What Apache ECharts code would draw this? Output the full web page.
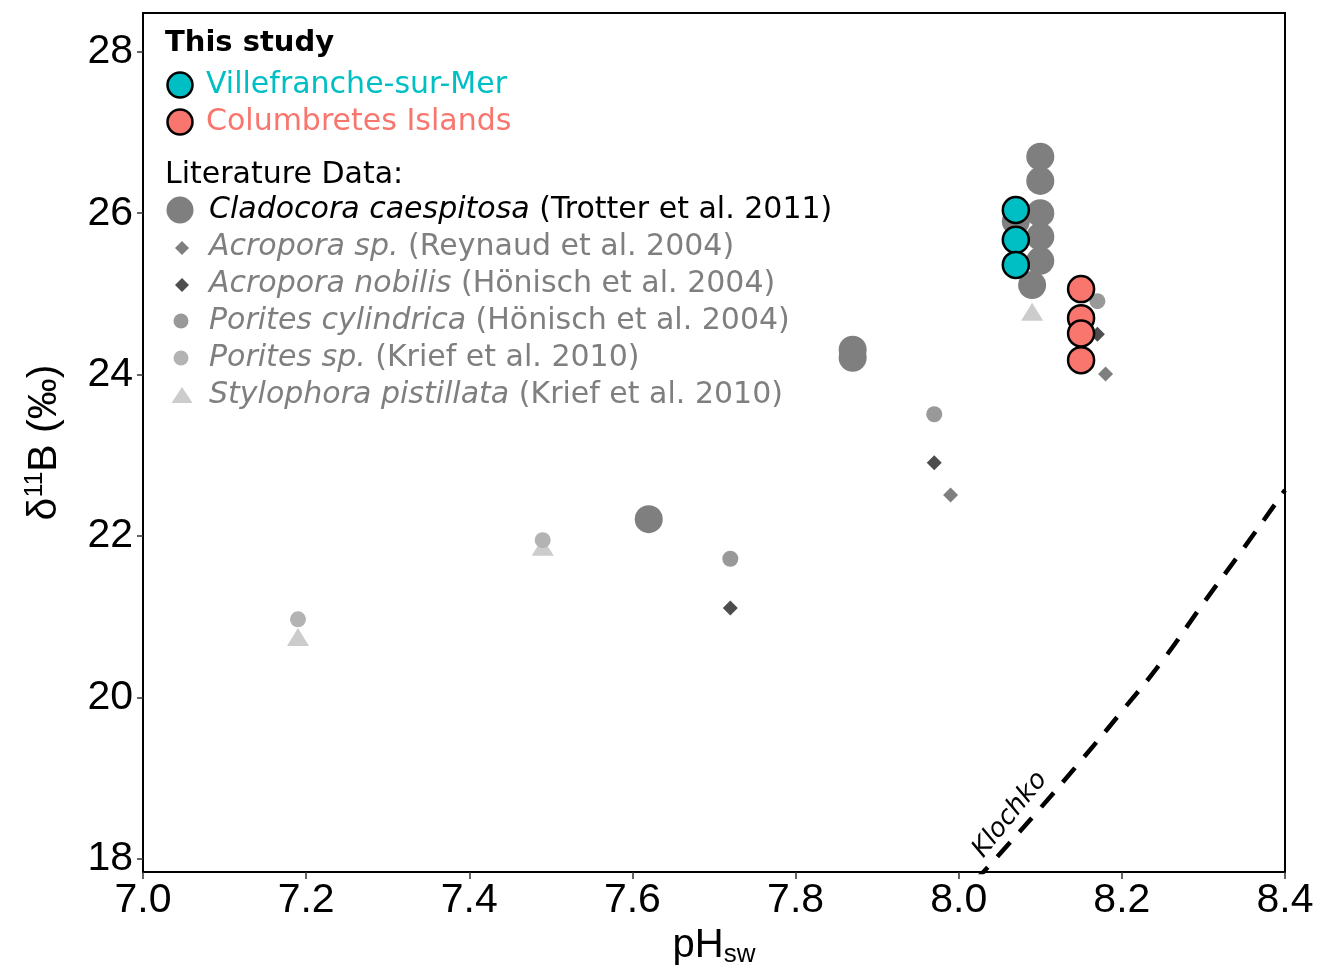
<!DOCTYPE html>
<html>
<head>
<meta charset="utf-8">
<script src="https://cdn.jsdelivr.net/npm/echarts@6/dist/echarts.min.js"></script>
<style>html,body{margin:0;padding:0;background:#fff;}#chart{width:1317px;height:973px;}</style>
</head>
<body>
<div id="chart"></div>
<script>
// ---- data ----
const xTicks = [7.0, 7.2, 7.4, 7.6, 7.8, 8.0, 8.2, 8.4];
const yTicks = [18, 20, 22, 24, 26, 28];

const villefranche = [[8.07, 26.04], [8.07, 25.67], [8.07, 25.36]];
const columbretes = [[8.15, 25.06], [8.15, 24.70], [8.15, 24.51], [8.15, 24.18]];
const cladocora = [[7.62, 22.21], [7.87, 24.31], [7.87, 24.21], [8.07, 25.90], [8.09, 25.11],
                   [8.10, 26.70], [8.10, 26.40], [8.10, 26.00], [8.10, 25.71], [8.10, 25.41]];
const acroporaSp = [[7.99, 22.51], [8.18, 24.01]];
const acroporaNobilis = [[7.72, 21.11], [7.97, 22.91], [8.17, 24.50]];
const poritesCylindrica = [[7.72, 21.72], [7.97, 23.51], [8.17, 24.91]];
const poritesSp = [[7.19, 20.97], [7.49, 21.95]];
const stylophora = [[7.19, 20.75], [7.49, 21.87], [8.09, 24.78]];

const klochkoPH = [8.02, 8.05, 8.10, 8.15, 8.20, 8.25, 8.30, 8.35, 8.40];
const klochkoD11B = [17.73, 18.06, 18.63, 19.22, 19.83, 20.46, 21.17, 21.86, 22.57];
const klochkoLabelAt = [8.063, 18.55];

const studyNames = ['Villefranche-sur-Mer', 'Columbretes Islands'];
const litSpecies = ['Cladocora caespitosa', 'Acropora sp.', 'Acropora nobilis', 'Porites cylindrica', 'Porites sp.', 'Stylophora pistillata'];
const litRefs = ['(Trotter et al. 2011)', '(Reynaud et al. 2004)', '(Hönisch et al. 2004)', '(Hönisch et al. 2004)', '(Krief et al. 2010)', '(Krief et al. 2010)'];

// ---- styles ----
const C_VIL = '#00BFC4', C_COL = '#F8766D';
const C_CLA = '#7f7f7f', C_ASP = '#7f7f7f', C_ANO = '#4d4d4d', C_PCY = '#999999', C_PSP = '#b3b3b3', C_STY = '#cccccc';
const LEG_FONT = 'DejaVu Sans';
const AX_FONT = 'Liberation Sans';
const LEG_SIZE = 30;

const chart = echarts.init(document.getElementById('chart'), null, {renderer: 'canvas'});

// legend graphics
const graphics = [];
graphics.push({type: 'text', x: 165, y: 43, style: {text: 'This study', fontFamily: LEG_FONT, fontWeight: 'bold', fontSize: 29, fill: '#000', verticalAlign: 'middle'}});
const studyColors = [C_VIL, C_COL];
const studyRows = [85, 122];
studyNames.forEach((n, i) => {
  graphics.push({type: 'circle', shape: {cx: 180, cy: studyRows[i], r: 12.5}, style: {fill: studyColors[i], stroke: '#000', lineWidth: 2.5}});
  graphics.push({type: 'text', x: 206, y: studyRows[i], style: {text: n, fontFamily: LEG_FONT, fontSize: LEG_SIZE, fill: studyColors[i], verticalAlign: 'middle'}});
});
graphics.push({type: 'text', x: 165, y: 175, style: {text: 'Literature Data:', fontFamily: LEG_FONT, fontSize: LEG_SIZE, fill: '#000', verticalAlign: 'middle'}});
const litRows = [210, 247, 284, 321, 358, 395];
const litColors = [C_CLA, C_ASP, C_ANO, C_PCY, C_PSP, C_STY];
const litTextColors = ['#000', '#7f7f7f', '#7f7f7f', '#7f7f7f', '#7f7f7f', '#7f7f7f'];
function diamond(cx, cy, h) { return [[cx, cy - h], [cx + h, cy], [cx, cy + h], [cx - h, cy]]; }
litSpecies.forEach((sp, i) => {
  const y = litRows[i];
  let icon;
  if (i === 0) icon = {type: 'circle', shape: {cx: 180, cy: y, r: 13.5}, style: {fill: litColors[i]}};
  else if (i === 1 || i === 2) icon = {type: 'polygon', shape: {points: diamond(182, y + 1, 7)}, style: {fill: litColors[i]}};
  else if (i === 3 || i === 4) icon = {type: 'circle', shape: {cx: 181, cy: y, r: 7.5}, style: {fill: litColors[i]}};
  else icon = {type: 'polygon', shape: {points: [[182, y - 8], [192.5, y + 8], [171.5, y + 8]]}, style: {fill: litColors[i]}};
  graphics.push(icon);
  graphics.push({type: 'text', x: 209, y: y, style: {
    text: '{i|' + sp + '} ' + litRefs[i], fontFamily: LEG_FONT, fontSize: LEG_SIZE, fill: litTextColors[i], verticalAlign: 'middle',
    rich: {i: {fontStyle: 'italic', fontFamily: LEG_FONT, fontSize: LEG_SIZE, fill: litTextColors[i]}}
  }});
});

function scatter(name, data, symbol, size, color, border) {
  const itemStyle = {color: color, opacity: 1};
  if (border) { itemStyle.borderColor = '#000'; itemStyle.borderWidth = 2.5; }
  return {
    name: name, type: 'scatter', data: data, symbol: symbol, symbolSize: size,
    itemStyle: itemStyle, silent: true, z: border ? 3 : 2
  };
}

const option = {
  animation: false,
  backgroundColor: '#fff',
  grid: {left: 143, right: 32, top: 13, bottom: 101, show: true, borderColor: '#000', borderWidth: 2, backgroundColor: 'transparent'},
  xAxis: {
    type: 'value', min: 7.0, max: 8.4,
    name: '{p|pH}{s|sw}', nameLocation: 'middle', nameGap: 50,
    nameTextStyle: {color: '#000', fontFamily: AX_FONT, fontSize: 40,
      rich: {p: {fontSize: 40, fontFamily: AX_FONT, color: '#000', lineHeight: 44}, s: {fontSize: 26, fontFamily: AX_FONT, color: '#000', lineHeight: 26, verticalAlign: 'bottom', padding: [14, 0, 0, 0]}}},
    axisLine: {show: true, onZero: false, lineStyle: {color: '#000', width: 2}},
    axisTick: {show: true, customValues: xTicks, length: 7, lineStyle: {color: '#333', width: 1.5}},
    axisLabel: {customValues: xTicks, formatter: v => v.toFixed(1), color: '#000', fontFamily: AX_FONT, fontSize: 41, margin: 8},
    splitLine: {show: false}
  },
  yAxis: {
    type: 'value', min: 17.84, max: 28.48,
    name: '{d|δ}{s|11}{d|B (‰)}', nameLocation: 'middle', nameGap: 76,
    nameTextStyle: {color: '#000', fontFamily: AX_FONT, fontSize: 40,
      rich: {d: {fontSize: 41, fontFamily: AX_FONT, color: '#000', lineHeight: 44}, s: {fontSize: 25, fontFamily: AX_FONT, color: '#000', lineHeight: 25, verticalAlign: 'top'}}},
    axisLine: {show: true, onZero: false, lineStyle: {color: '#000', width: 2}},
    axisTick: {show: true, customValues: yTicks, length: 6, lineStyle: {color: '#333', width: 1.5}},
    axisLabel: {customValues: yTicks, color: '#000', fontFamily: AX_FONT, fontSize: 41, margin: 10},
    splitLine: {show: false}
  },
  graphic: graphics,
  series: [
    {
      name: 'Klochko', type: 'line', data: klochkoPH.map((p, i) => [p, klochkoD11B[i]]),
      smooth: true, showSymbol: false, symbol: 'none', clip: true, silent: true,
      lineStyle: {color: '#000', width: 4.5, type: [19, 14]}, z: 1
    },
    {
      name: 'KlochkoLabel', type: 'scatter', data: [klochkoLabelAt], symbolSize: 0, silent: true,
      itemStyle: {opacity: 1},
      label: {show: true, position: 'inside', formatter: 'Klochko', rotate: 51, color: '#000', opacity: 1, fontFamily: LEG_FONT, fontStyle: 'italic', fontSize: 26}
    },
    scatter('Stylophora pistillata', stylophora, 'triangle', [22, 18], C_STY),
    scatter('Porites sp.', poritesSp, 'circle', 16, C_PSP),
    scatter('Porites cylindrica', poritesCylindrica, 'circle', 16, C_PCY),
    scatter('Acropora sp.', acroporaSp, 'diamond', 15, C_ASP),
    scatter('Acropora nobilis', acroporaNobilis, 'diamond', 15, C_ANO),
    scatter('Cladocora caespitosa', cladocora, 'circle', 28, C_CLA),
    scatter('Villefranche-sur-Mer', villefranche, 'circle', 26, C_VIL, true),
    scatter('Columbretes Islands', columbretes, 'circle', 26, C_COL, true)
  ]
};
chart.setOption(option);
</script>
</body>
</html>
